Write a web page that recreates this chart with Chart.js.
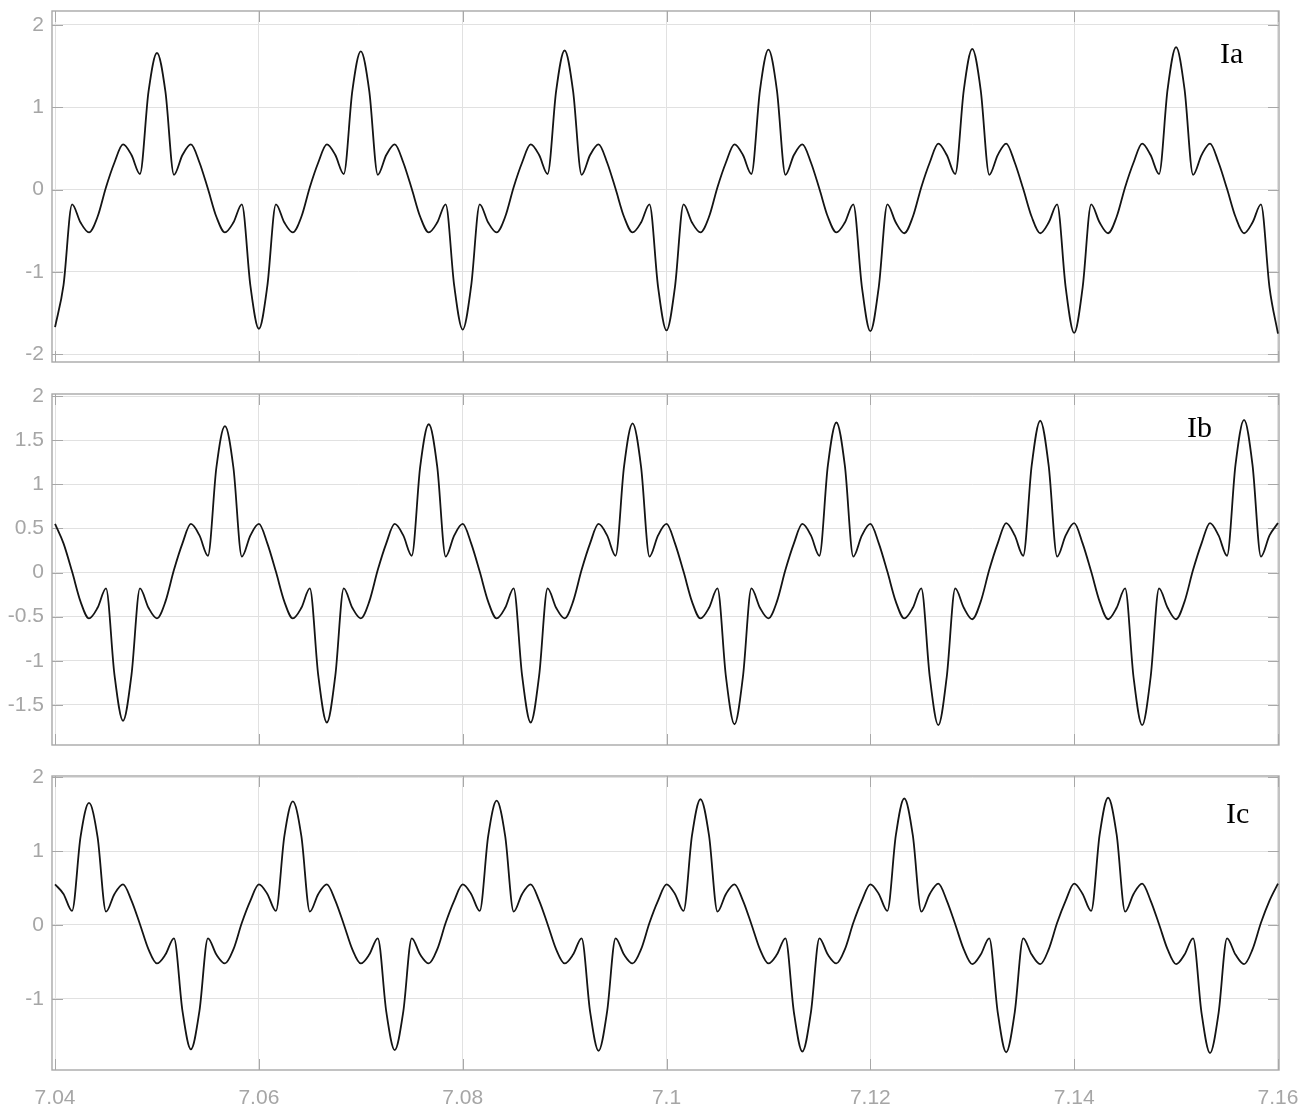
<!DOCTYPE html>
<html>
<head>
<meta charset="utf-8">
<script src="https://cdn.jsdelivr.net/npm/chart.js@4.4.1/dist/chart.umd.min.js"></script>
<style>
  body { margin: 0; background: #fff; width: 1302px; height: 1104px; overflow: hidden; position: relative; }
  canvas { position: absolute; left: 0; }
  .tag { position: absolute; font-family: "Liberation Serif", "Times New Roman", serif; font-size: 30px; line-height: 30px; color: #000; }
</style>
</head>
<body>
<canvas id="chartA" width="1302" height="374" style="top:0px"></canvas>
<canvas id="chartB" width="1302" height="374" style="top:383px"></canvas>
<canvas id="chartC" width="1302" height="339" style="top:765px"></canvas>
<div class="tag" style="left:1220px;top:38px">Ia</div>
<div class="tag" style="left:1187px;top:412px">Ib</div>
<div class="tag" style="left:1226px;top:798px">Ic</div>
<script>
// time samples (s)
const sampleTimes = [
  7.04, 7.04083, 7.04167, 7.0425, 7.04333, 7.04417, 7.045, 7.04583, 7.04667, 7.0475, 7.04833, 7.04917,
  7.05, 7.05083, 7.05167, 7.0525, 7.05333, 7.05417, 7.055, 7.05583, 7.05667, 7.0575, 7.05833, 7.05917,
  7.06, 7.06083, 7.06167, 7.0625, 7.06333, 7.06417, 7.065, 7.06583, 7.06667, 7.0675, 7.06833, 7.06917,
  7.07, 7.07083, 7.07167, 7.0725, 7.07333, 7.07417, 7.075, 7.07583, 7.07667, 7.0775, 7.07833, 7.07917,
  7.08, 7.08083, 7.08167, 7.0825, 7.08333, 7.08417, 7.085, 7.08583, 7.08667, 7.0875, 7.08833, 7.08917,
  7.09, 7.09083, 7.09167, 7.0925, 7.09333, 7.09417, 7.095, 7.09583, 7.09667, 7.0975, 7.09833, 7.09917,
  7.10, 7.10083, 7.10167, 7.1025, 7.10333, 7.10417, 7.105, 7.10583, 7.10667, 7.1075, 7.10833, 7.10917,
  7.11, 7.11083, 7.11167, 7.1125, 7.11333, 7.11417, 7.115, 7.11583, 7.11667, 7.1175, 7.11833, 7.11917,
  7.12, 7.12083, 7.12167, 7.1225, 7.12333, 7.12417, 7.125, 7.12583, 7.12667, 7.1275, 7.12833, 7.12917,
  7.13, 7.13083, 7.13167, 7.1325, 7.13333, 7.13417, 7.135, 7.13583, 7.13667, 7.1375, 7.13833, 7.13917,
  7.14, 7.14083, 7.14167, 7.1425, 7.14333, 7.14417, 7.145, 7.14583, 7.14667, 7.1475, 7.14833, 7.14917,
  7.15, 7.15083, 7.15167, 7.1525, 7.15333, 7.15417, 7.155, 7.15583, 7.15667, 7.1575, 7.15833, 7.15917,
  7.16
];

const currentIa = [
  -1.67, -1.16, -0.18, -0.40, -0.52, -0.33, 0.03, 0.33, 0.55, 0.42, 0.19, 1.19, 1.66, 1.19, 0.18, 0.42, 0.55, 0.33, 0.01, -0.33, -0.52, -0.40, -0.18, -1.17,
  -1.69, -1.17, -0.18, -0.40, -0.52, -0.33, 0.03, 0.33, 0.55, 0.42, 0.19, 1.20, 1.68, 1.20, 0.18, 0.42, 0.55, 0.33, 0.01, -0.33, -0.52, -0.40, -0.18, -1.17,
  -1.70, -1.17, -0.18, -0.40, -0.52, -0.33, 0.03, 0.33, 0.55, 0.42, 0.19, 1.20, 1.69, 1.20, 0.18, 0.42, 0.55, 0.33, 0.01, -0.33, -0.52, -0.40, -0.18, -1.18,
  -1.71, -1.18, -0.18, -0.40, -0.52, -0.33, 0.03, 0.33, 0.55, 0.42, 0.19, 1.21, 1.70, 1.21, 0.18, 0.42, 0.55, 0.33, 0.01, -0.33, -0.52, -0.40, -0.18, -1.18,
  -1.72, -1.18, -0.18, -0.40, -0.53, -0.33, 0.03, 0.33, 0.56, 0.42, 0.19, 1.21, 1.71, 1.21, 0.18, 0.42, 0.56, 0.33, 0.01, -0.33, -0.53, -0.40, -0.18, -1.19,
  -1.74, -1.19, -0.18, -0.40, -0.53, -0.33, 0.03, 0.33, 0.56, 0.42, 0.19, 1.22, 1.73, 1.22, 0.18, 0.42, 0.56, 0.33, 0.01, -0.33, -0.53, -0.40, -0.18, -1.19,
  -1.75
];

const currentIb = [
  0.55, 0.33, 0.01, -0.33, -0.52, -0.40, -0.18, -1.16,
  -1.68, -1.16, -0.18, -0.40, -0.52, -0.33, 0.03, 0.33, 0.55, 0.42, 0.19, 1.19, 1.66, 1.19, 0.18, 0.42, 0.55, 0.33, 0.01, -0.33, -0.52, -0.40, -0.18, -1.17,
  -1.70, -1.17, -0.18, -0.40, -0.52, -0.33, 0.03, 0.33, 0.55, 0.42, 0.19, 1.20, 1.68, 1.20, 0.18, 0.42, 0.55, 0.33, 0.01, -0.33, -0.52, -0.40, -0.18, -1.17,
  -1.70, -1.17, -0.18, -0.40, -0.52, -0.33, 0.03, 0.33, 0.55, 0.42, 0.19, 1.20, 1.69, 1.20, 0.18, 0.42, 0.55, 0.33, 0.01, -0.33, -0.52, -0.40, -0.18, -1.18,
  -1.72, -1.18, -0.18, -0.40, -0.52, -0.33, 0.03, 0.33, 0.55, 0.42, 0.19, 1.21, 1.70, 1.21, 0.18, 0.42, 0.55, 0.33, 0.01, -0.33, -0.52, -0.40, -0.18, -1.18,
  -1.73, -1.18, -0.18, -0.40, -0.53, -0.33, 0.03, 0.33, 0.56, 0.42, 0.19, 1.21, 1.72, 1.21, 0.18, 0.42, 0.56, 0.33, 0.01, -0.33, -0.53, -0.40, -0.18, -1.19,
  -1.73, -1.19, -0.18, -0.40, -0.53, -0.33, 0.03, 0.33, 0.56, 0.42, 0.19, 1.22, 1.73,
  1.22, 0.18, 0.42, 0.56
];

const currentIc = [
  0.55, 0.42, 0.19, 1.19,
  1.65, 1.19, 0.18, 0.42, 0.55, 0.33, 0.01, -0.33, -0.52, -0.40, -0.18, -1.16, -1.68, -1.16, -0.18, -0.40, -0.52, -0.33, 0.03, 0.33, 0.55, 0.42, 0.19, 1.20,
  1.67, 1.20, 0.18, 0.42, 0.55, 0.33, 0.01, -0.33, -0.52, -0.40, -0.18, -1.17, -1.69, -1.17, -0.18, -0.40, -0.52, -0.33, 0.03, 0.33, 0.55, 0.42, 0.19, 1.20,
  1.68, 1.20, 0.18, 0.42, 0.55, 0.33, 0.01, -0.33, -0.52, -0.40, -0.18, -1.17, -1.70, -1.17, -0.18, -0.40, -0.52, -0.33, 0.03, 0.33, 0.55, 0.42, 0.19, 1.21,
  1.70, 1.21, 0.18, 0.42, 0.55, 0.33, 0.01, -0.33, -0.52, -0.40, -0.18, -1.18, -1.71, -1.18, -0.18, -0.40, -0.52, -0.33, 0.03, 0.33, 0.55, 0.42, 0.19, 1.21,
  1.71, 1.21, 0.18, 0.42, 0.56, 0.33, 0.01, -0.33, -0.53, -0.40, -0.18, -1.18, -1.72, -1.18, -0.18, -0.40, -0.53, -0.33, 0.03, 0.33, 0.56, 0.42, 0.19, 1.22,
  1.72, 1.22, 0.18, 0.42, 0.56, 0.33, 0.01, -0.33, -0.53, -0.40, -0.18, -1.19, -1.73, -1.19, -0.18, -0.40, -0.53, -0.33, 0.03, 0.33, 0.56
];

const timeTicks = [7.04, 7.06, 7.08, 7.1, 7.12, 7.14, 7.16];

const labelColor = '#a6a6a6';
const tickFont = { family: 'Liberation Sans', size: 21 };
const fmt = v => String(+Number(v).toFixed(2));

// box + inner tick marks, like the scope plot
const framePlugin = {
  id: 'frame',
  beforeDatasetsDraw(chart) {
    const { ctx, chartArea: a, scales } = chart;
    ctx.save();
    ctx.strokeStyle = '#a8a8a8';
    ctx.lineWidth = 1.4;
    ctx.strokeRect(a.left, a.top, a.right - a.left, a.bottom - a.top);
    ctx.beginPath();
    scales.y.ticks.forEach(t => {
      const y = Math.round(scales.y.getPixelForValue(t.value)) + 0.5;
      ctx.moveTo(a.left, y); ctx.lineTo(a.left + 11, y);
      ctx.moveTo(a.right, y); ctx.lineTo(a.right - 11, y);
    });
    scales.x.ticks.forEach(t => {
      const x = Math.round(scales.x.getPixelForValue(t.value)) + 0.5;
      ctx.moveTo(x, a.bottom); ctx.lineTo(x, a.bottom - 11);
      ctx.moveTo(x, a.top); ctx.lineTo(x, a.top + 11);
    });
    ctx.lineWidth = 1;
    ctx.stroke();
    ctx.restore();
  }
};

function makeChart(id, values, yMin, yMax, yStep, showX, padTop, padBottom) {
  return new Chart(document.getElementById(id), {
    type: 'line',
    data: {
      datasets: [{
        data: sampleTimes.map((t, i) => ({ x: t, y: values[i] })),
        borderColor: '#141414',
        borderWidth: 1.8,
        pointRadius: 0,
        fill: false,
        cubicInterpolationMode: 'monotone'
      }]
    },
    options: {
      responsive: false,
      animation: false,
      layout: { padding: { left: 0, right: 23, top: padTop, bottom: padBottom } },
      plugins: { legend: { display: false }, tooltip: { enabled: false } },
      scales: {
        x: {
          type: 'linear',
          min: 7.0397,
          max: 7.1601,
          afterBuildTicks: s => { s.ticks = timeTicks.map(v => ({ value: v })); },
          ticks: { display: showX, autoSkip: false, maxRotation: 0, color: labelColor, font: tickFont, padding: 16, callback: fmt },
          grid: { color: '#e1e1e1', drawTicks: false },
          border: { display: false },
          afterFit: s => { s.height = showX ? 34 : 0; s.paddingLeft = 0; s.paddingRight = 0; }
        },
        y: {
          min: yMin,
          max: yMax,
          ticks: { stepSize: yStep, includeBounds: false, color: labelColor, font: tickFont, padding: 8, callback: fmt },
          grid: { color: '#e1e1e1', drawTicks: false },
          border: { display: false },
          afterFit: s => { s.width = 52; s.paddingTop = 0; s.paddingBottom = 0; }
        }
      }
    },
    plugins: [framePlugin]
  });
}

makeChart('chartA', currentIa, -2.094, 2.17, 1, false, 11, 12);
makeChart('chartB', currentIb, -1.955, 2.023, 0.5, false, 11, 12);
makeChart('chartC', currentIc, -1.96, 2.014, 1, true, 11, 0);
</script>
</body>
</html>
